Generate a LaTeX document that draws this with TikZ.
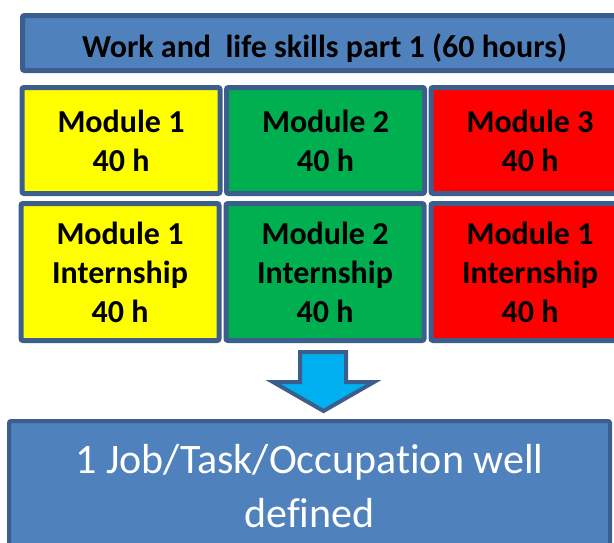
\documentclass[tikz,border=0pt]{standalone}
\usepackage{fontspec}
\setmainfont{Carlito}[RawFeature=-liga]
\usepackage{tikz}

\definecolor{boxblue}{HTML}{4F81BD}
\definecolor{edgeblue}{HTML}{3C5E8C}
\definecolor{modyellow}{HTML}{FFFF00}
\definecolor{modgreen}{HTML}{00B050}
\definecolor{modred}{HTML}{FF0000}
\definecolor{arrowcyan}{HTML}{00B0F0}

\begin{document}
\begin{tikzpicture}[x=1pt, y=1pt,
	every node/.style={draw=edgeblue, rectangle, rounded corners=2pt, align=center},
	modbox/.style={line width=5pt, minimum width=198pt, font=\fontsize{32}{39}\selectfont\bfseries},
	topbox/.style={modbox, minimum height=106pt},
	lowbox/.style={modbox, minimum height=137pt},
	titlebox/.style={line width=5pt, fill=boxblue, minimum width=604pt, minimum height=55pt,
		text height=29pt, text depth=0pt, font=\fontsize{32}{39}\selectfont\bfseries},
	jobbox/.style={line width=4pt, fill=boxblue, text=white, minimum width=601pt, minimum height=131pt,
		font=\fontsize{42}{54}\selectfont}]
			\useasboundingbox (0,0) rectangle (614,-542);
			\clip (0,0) rectangle (614,-542);
			
			\node[titlebox] (title) at (324.5,-43) {Work and \ life skills part 1 (60 hours)};
			
			\node[topbox, fill=modyellow] (m1) at (121,-140.5) {Module 1\\40 h};
			\node[topbox, fill=modgreen] (m2) at (325.5,-140.5) {Module 2\\40 h};
			\node[topbox, fill=modred] (m3) at (530,-140.5) {Module 3\\40 h};
			
			\node[lowbox, fill=modyellow] (i1) at (120,-272) {Module 1\\Internship\\40 h};
			\node[lowbox, fill=modgreen] (i2) at (325,-272) {Module 2\\Internship\\40 h};
			\node[lowbox, fill=modred] (i3) at (530,-272) {Module 1\\Internship\\40 h};
			
			\node[jobbox] (job) at (309.5,-486.5) {1 Job/Task/Occupation well\\defined};
			
			% block arrow
			\draw[edgeblue, line width=4pt, fill=arrowcyan] (300,-352) -- (346,-352) -- (346,-382) -- (374,-382)
				-- (323.5,-411) -- (273,-382) -- (300,-382) -- cycle;
			\end{tikzpicture}
\end{document}
